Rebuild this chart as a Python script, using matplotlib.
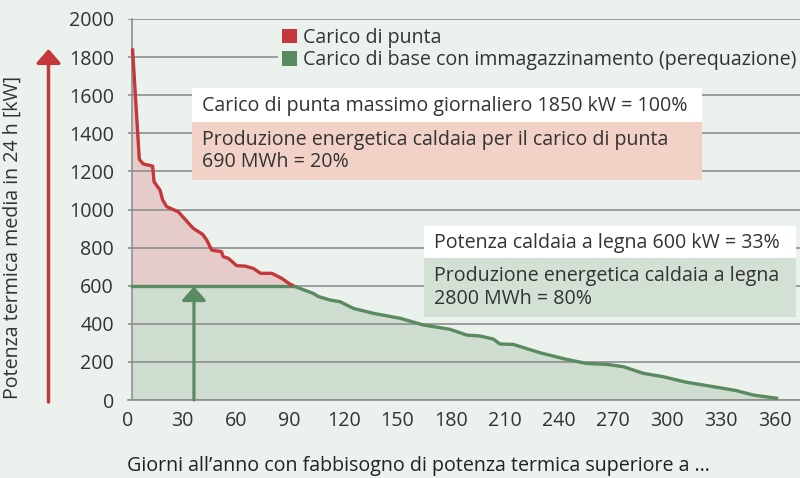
import numpy as np
import matplotlib
matplotlib.use("Agg")
import matplotlib.pyplot as plt
from matplotlib.patches import Rectangle, Patch

# ---------------- data ----------------
days = [2.5, 6.3, 8.5, 13.7, 14.5, 17.8, 19.3, 21.5, 28, 36.3, 41.5, 43.8, 46.6,
        48.4, 52, 53, 55.8, 60.5, 65, 69.7, 73.8, 80, 85.5, 90, 92, 93.9, 103,
        106, 112.4, 118, 125.4, 136.5, 151.4, 164.3, 179.2, 188.5, 195.9, 203.3,
        207, 214.4, 229.3, 244.1, 255.2, 266.4, 275.6, 286.8, 297.9, 310.9,
        325.7, 338.7, 348, 361.9]
load_kw = [1846, 1263, 1239, 1228, 1146, 1102, 1050, 1015, 988, 901, 870, 840, 787,
           784, 779, 752, 744, 705, 703, 691, 665, 665, 639, 609, 600, 592, 560,
           543, 525, 516, 481, 455, 429, 394, 371, 341, 336, 320,
           294, 292, 248, 213, 192, 187, 175, 140, 122, 93,
           70, 49, 26, 8]
base_power = 600
arrow_day = 36.7
x_ticks = list(range(0, 361, 30))
y_ticks = list(range(0, 2001, 200))
legend_labels = ["Carico di punta", "Carico di base con immagazzinamento (perequazione)"]
box_texts = [
    "Carico di punta massimo giornaliero 1850 kW = 100%",
    "Produzione energetica caldaia per il carico di punta\n690 MWh = 20%",
    "Potenza caldaia a legna 600 kW = 33%",
    "Produzione energetica caldaia a legna\n2800 MWh = 80%",
]
y_label = "Potenza termica media in 24 h [kW]"
x_label = "Giorni all\u2019anno con fabbisogno di potenza termica superiore a \u2026"

# ---------------- style ----------------
BG = "#EBF1EC"
RED = "#C4373A"
GREEN = "#5A8A5F"
RED_FILL = "#E5CCCA"
GREEN_FILL = "#CEDDCF"
PINK_BOX = "#F2D1C6"
GREEN_BOX = "#D3E0D4"
GRID = "#8E8E8E"
TXT = "#333333"
FONT = ["Open Sans", "DejaVu Sans"]
FS = 14.1

plt.rcParams["font.family"] = FONT

W, H = 800, 478
fig = plt.figure(figsize=(W / 100, H / 100), dpi=100, facecolor=BG)

def fx(px):
    return px / W

def fy(py):
    return 1 - py / H

ax = fig.add_axes([fx(128), fy(400), fx(800) - fx(128), fy(19) - fy(400)])
ax.set_facecolor(BG)
ax.set_xlim(0, 374)
ax.set_ylim(0, 2000)

d = np.array(days)
v = np.array(load_kw)
base = np.minimum(v, base_power)

# fills
ax.fill_between(d, base_power, v, where=v >= base_power, color=RED_FILL, lw=0, zorder=1)
ax.fill_between(d, 0, base, color=GREEN_FILL, lw=0, zorder=1)

# gridlines
for yt in y_ticks:
    ax.axhline(yt, color=GRID, lw=1.2, zorder=2)

# lines
peak_mask = v >= base_power
ax.plot(d[peak_mask], v[peak_mask], color=RED, lw=2.4, zorder=4, solid_capstyle="butt")
low_mask = v <= base_power
ax.plot(d[low_mask], v[low_mask], color=GREEN, lw=2.4, zorder=4, solid_capstyle="butt")
ax.plot([d[0], d[peak_mask][-1]], [base_power, base_power], color=GREEN, lw=2.4, zorder=3)

# spines
for s in ["top", "right"]:
    ax.spines[s].set_visible(False)
ax.spines["left"].set_position(("data", 2.2))
ax.spines["left"].set_color(GRID)
ax.spines["left"].set_linewidth(1.2)
ax.spines["bottom"].set_color(GRID)
ax.spines["bottom"].set_linewidth(1.2)

ax.set_xticks(x_ticks)
ax.set_yticks(y_ticks)
ax.tick_params(length=0, labelsize=FS, colors=TXT, pad=8)
ax.tick_params(axis="y", pad=13)

# green arrow
ax.annotate("", xy=(arrow_day, base_power - 4), xytext=(arrow_day, 0),
            arrowprops=dict(arrowstyle="-|>,head_length=0.42,head_width=0.37",
                            mutation_scale=20, color=GREEN, lw=2.3,
                            shrinkA=0, shrinkB=0), zorder=5)

# red arrow (figure pixels)
ax.annotate("", xy=(48.5, H - 49), xytext=(48.5, H - 402),
            xycoords="figure pixels", textcoords="figure pixels",
            arrowprops=dict(arrowstyle="-|>,head_length=0.42,head_width=0.37",
                            mutation_scale=20, color=RED, lw=2.5,
                            shrinkA=0, shrinkB=0), annotation_clip=False)

# legend
handles = [Patch(facecolor=RED, edgecolor="none"), Patch(facecolor=GREEN, edgecolor="none")]
leg = ax.legend(handles, legend_labels, loc="upper right",
                bbox_to_anchor=(1.0, 1 - 5 / 381), fontsize=FS, frameon=True,
                facecolor=BG, edgecolor="none", framealpha=1, fancybox=False,
                handlelength=0.74, handleheight=0.74, handletextpad=0.3,
                labelspacing=0.12, borderpad=0.2, borderaxespad=0)
for t in leg.get_texts():
    t.set_color(TXT)
leg.set_zorder(6)

# boxes
def box(x0, y0, x1, y1, color):
    r = Rectangle((fx(x0), fy(y1)), fx(x1) - fx(x0), fy(y0) - fy(y1),
                  transform=fig.transFigure, facecolor=color, edgecolor="none",
                  zorder=6, clip_on=False)
    ax.add_patch(r)

box(192, 88, 702, 122, "white")
box(192, 122, 702, 180, PINK_BOX)
box(424, 226, 796, 258, "white")
box(424, 258, 796, 317, GREEN_BOX)

def txt(x, y, s):
    fig.text(fx(x), fy(y), s, fontsize=FS, color=TXT, ha="left", va="center",
             linespacing=1.15, zorder=7)

txt(202, 105.5, box_texts[0])
txt(202, 151, box_texts[1])
txt(434, 242.5, box_texts[2])
txt(434, 287.5, box_texts[3])

# axis labels
fig.text(fx(13), fy(237), y_label, rotation=90, fontsize=FS, color=TXT,
         ha="center", va="center")
fig.text(fx(418), fy(466), x_label, fontsize=FS, color="#222222",
         ha="center", va="center", fontweight="medium")

fig.savefig("out.png", dpi=100, facecolor=BG)
